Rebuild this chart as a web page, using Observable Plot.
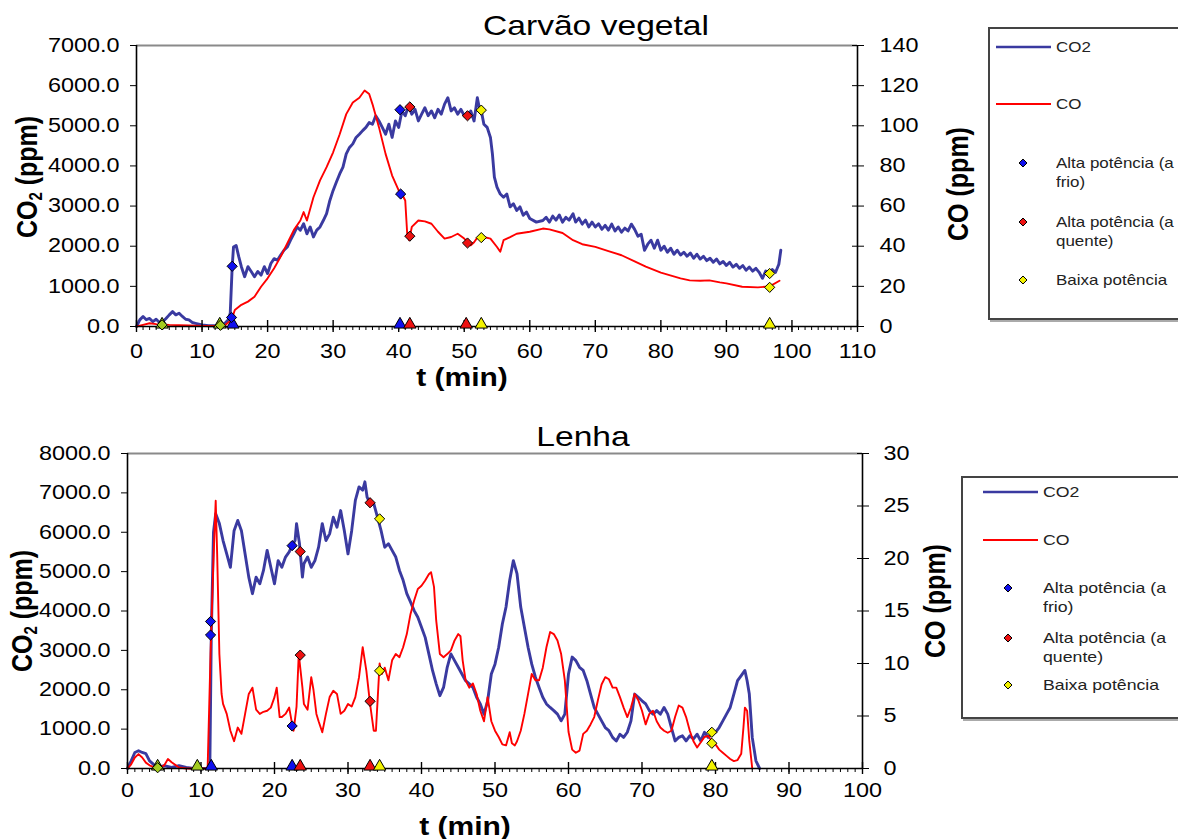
<!DOCTYPE html>
<html><head><meta charset="utf-8">
<script src="https://cdn.jsdelivr.net/npm/d3@7"></script>
<script src="https://cdn.jsdelivr.net/npm/@observablehq/plot@0.6"></script>
<style>
html,body{margin:0;padding:0;background:#fff;}
#root{position:relative;width:1178px;height:839px;overflow:hidden;background:#fff;font-family:"Liberation Sans",Arial,sans-serif;color:#000;}
.abs{position:absolute;white-space:nowrap;line-height:1;}
.title{font-size:28px;transform:translateX(-50%) scaleX(1.2);}
.ylab{font-size:25px;font-weight:bold;transform:translate(-50%,-50%) rotate(-90deg) scaleY(1.2);}
.xlab{font-size:25px;font-weight:bold;transform:translate(-50%,-50%) scaleX(1.2);}
.legend{position:absolute;border:2px solid #444;box-shadow:2px 2px 0 #aaa;background:#fff;}
.lg{position:absolute;font-size:15px;line-height:19px;color:#222;white-space:nowrap;transform-origin:0 50%;}
sub{font-size:0.6em;vertical-align:-0.25em;}
</style>
</head><body>
<div id="root"></div>
<script>
// ---------- Carvão vegetal ----------
const carvaoCO2_t = [0,0.5,1,1.5,2,2.5,3,3.5,4,4.5,5,5.5,6,6.5,7,7.5,8,8.5,9,9.5,10,11,12,13,13.5,14,14.3,14.6,14.8,15.2,15.6,16,16.5,17,17.5,18,18.5,19,19.5,20,20.5,21,21.5,22,22.5,23,23.5,24,24.5,25,25.5,26,26.5,27,27.5,28,28.5,29,29.5,30,30.5,31,31.5,32,32.5,33,33.5,34,34.5,35,35.5,36,36.5,37,37.5,38,38.5,39,39.5,40,40.5,41,41.5,42,42.5,43,43.5,44,44.5,45,45.5,46,46.5,47,47.5,48,48.5,49,49.5,50,50.5,51,51.5,52,52.3,52.7,53,53.5,54,54.3,54.6,55,55.5,56,56.5,57,57.5,58,58.5,59,59.5,60,61,62,62.5,63,63.5,64,64.5,65,65.5,66,66.6,67,67.5,68,68.5,69,69.5,70,70.5,71,71.5,72,72.5,73,73.5,74,74.5,75,75.5,76,76.5,77,77.5,78,78.5,79,79.5,80,80.5,81,81.5,82,82.5,83,83.5,84,84.5,85,85.5,86,86.5,87,87.5,88,88.5,89,89.5,90,90.5,91,91.5,92,92.5,93,93.5,94,94.5,95,95.5,96,96.5,97,97.5,98,98.3];
const carvaoCO2 = [0,165,250,170,200,120,180,100,120,200,290,370,290,330,250,180,165,100,80,60,40,20,20,40,80,165,330,1490,1980,2020,1740,1490,1240,1490,1370,1240,1370,1280,1490,1320,1570,1690,1650,1780,1900,1980,2150,2310,2480,2400,2560,2310,2480,2230,2400,2480,2640,2810,3140,3390,3600,3800,3970,4300,4460,4550,4710,4790,4880,4960,5080,5040,5250,5120,4960,4790,5040,4710,5120,4960,5370,5250,5500,5290,5410,5120,5290,5450,5250,5370,5200,5410,5290,5540,5700,5370,5450,5290,5410,5250,5200,5370,5120,5700,5450,5290,5040,4960,4710,4300,3720,3470,3300,3220,3300,2980,3060,2890,2980,2770,2850,2690,2600,2640,2720,2600,2750,2650,2780,2600,2720,2650,2810,2600,2700,2550,2650,2480,2600,2480,2560,2420,2520,2400,2550,2380,2480,2350,2450,2380,2550,2420,2250,2300,1900,2050,2150,1950,2150,1900,2000,1850,1950,1800,1900,1780,1850,1750,1830,1700,1800,1680,1750,1640,1700,1600,1680,1560,1620,1520,1600,1480,1550,1450,1520,1400,1480,1380,1450,1350,1200,1380,1300,1420,1350,1550,1900];
const carvaoCO_t = [0,1,2,3,5,8,10,12,13.5,14.5,15,16,17,18,19,20,21,22,23,24,25,25.5,26,27,28,29,30,31,32,33,34,34.8,35.5,36,37,38,39,40,40.5,41,41.3,41.6,42,43,44,45,46,47,48,49,50,51,51.5,52,53,54,55,55.5,56,57,58,60,62,63,65,66.6,68,70,72,74,76,77.7,80,81.3,83,84.4,86,87.4,89,90,92.4,94.8,96.6,98.1];
const carvaoCO = [0,0.8,1.6,1.2,0.8,0.5,0.3,0.3,0.6,3.3,8.2,10.8,12.4,14.8,19.8,24,29,34.8,41.4,48,52.8,57,52.8,64.4,72.8,79.4,86.8,95.8,105.8,111.6,114,117.6,115.8,110.8,99.2,86,75.2,67.8,66,62.8,46.2,43,49.6,52.8,52.4,51.2,47.2,43.8,44.6,46.2,43.8,40.4,42,44.3,44.6,43.8,39.6,37.2,43,44.5,46.2,47.2,48.8,48.4,46.6,43,41,39.7,37.6,35.5,32.5,29.8,26.8,25.6,24,23,22.8,23,22,21.5,19.8,19.5,20,22.8];
// marker points on the curves: time, curve, value (CO2 ppm or CO ppm), regime
const carvaoMk_t = [3.9,12.8,14.6,14.5,40.2,40.3,41.7,41.7,50.5,50.5,52.6,52.6,96.6,96.6];
const carvaoMk_s = ["CO2","CO2","CO2","CO","CO2","CO","CO2","CO","CO2","CO","CO2","CO","CO2","CO"];
const carvaoMk_v = [40,30,1500,4.5,5400,66,5470,45,5250,41.6,5390,44.3,1320,19.5];
const carvaoMk_k = ["ini","ini","frio","frio","frio","frio","quente","quente","quente","quente","baixa","baixa","baixa","baixa"];
// triangles on the time axis
const carvaoTri_t = [3.9,12.7,14.7,40.2,41.7,50.3,52.6,96.6];
const carvaoTri_k = ["ini","ini","frio","frio","quente","quente","baixa","baixa"];

// ---------- Lenha ----------
const lenhaCO2_t = [0,0.5,1,1.5,2,2.5,3,3.5,4,5,6,7,8,9,10,11,11.2,11.4,11.7,12,12.5,13,13.5,14,14.5,15,15.5,16,16.5,17,17.5,18,18.5,19,19.5,20,20.5,21,21.5,22,22.4,22.8,23,23.4,23.8,24,24.5,25,25.5,26,26.5,27,27.5,28,28.5,29,29.5,30,30.5,31,31.5,32,32.3,32.6,33,33.5,34,34.5,35,35.5,36,36.5,37,37.5,38,38.5,39,39.5,40,40.5,41,41.5,42,42.5,43,43.5,44,44.5,45,45.5,46,46.5,47,47.5,48,48.5,49,49.5,50,50.5,51,51.5,52,52.5,53,53.5,54,54.5,55,55.5,56,56.5,57,57.5,58,58.5,59,59.5,60,60.5,61,61.5,62,62.5,63,63.5,64,64.5,65,65.5,66,66.5,67,67.5,68,68.5,69,69.5,70,70.5,71,71.5,72,72.5,73,73.5,74,74.5,75,75.5,76,76.5,77,77.5,78,78.5,79,79.5,80,80.5,81,81.5,82,82.5,83,83.5,84,84.3,84.6,85,85.5,86];
const lenhaCO2 = [0,195,407,450,407,380,195,110,30,70,30,70,30,0,0,0,0,3400,6000,6470,6220,5790,5450,5110,6040,6300,6040,5450,4860,4440,4860,4690,5030,5540,5110,4690,5280,5110,5370,5500,5670,5790,6220,5710,4860,5200,5370,5110,5280,5620,6220,5790,5960,6380,6130,6550,6040,5450,6040,6810,7150,7070,7280,6890,6730,6730,6390,6040,5620,5710,5540,5370,5030,4780,4440,4230,4010,3840,3590,3330,2910,2490,2150,1850,2060,2570,2910,2740,2570,2400,2230,2150,2060,1810,1640,1380,1720,2400,2650,3080,3670,4100,4780,5280,4940,4100,3590,3080,2650,2320,2060,1810,1640,1550,1470,1380,1210,1380,2400,2830,2740,2570,2490,2230,1890,1550,1380,1210,1040,960,790,700,870,790,920,1210,1890,1810,1720,1640,1470,1380,1470,1380,1550,1380,1040,700,790,830,700,830,750,870,700,920,790,870,920,1040,1210,1380,1550,1890,2230,2360,2490,2230,1890,790,195,0];
const lenhaCO_t = [0,0.5,1,1.5,2,2.5,3,4,5,5.5,6,7,8,10,10.9,11.3,11.7,12,12.2,12.5,12.8,13,13.5,14,14.5,15,15.5,16,16.5,17,17.5,18,18.5,19,19.5,20,20.3,20.7,21,21.5,22,22.3,22.6,23,23.3,23.8,24,24.5,25,25.3,25.7,26,26.5,27,27.5,28,28.5,29,29.5,30,30.5,31,31.5,32,32.5,33,33.5,33.8,34,34.3,34.6,35,35.5,36,36.5,37,37.5,38,38.5,39,39.5,40,40.5,41,41.3,41.7,42,42.5,43,43.5,44,44.5,45,45.3,45.6,46,46.5,47,47.5,48,48.5,49,49.5,50,50.5,51,51.5,52,52.3,52.7,53,53.5,54,54.5,55,55.5,56,56.5,57,57.5,58,58.5,59,59.5,60,60.5,61,61.5,62,62.5,63,63.5,64,64.5,65,65.5,66,66.5,67,67.5,68,68.5,69,69.5,70,70.5,71,71.5,72,72.5,73,73.5,74,74.5,75,75.5,76,76.5,77,77.5,78,78.5,79,79.5,80,80.5,81,81.5,82,82.5,83,83.5,83.8,84,84.3,84.6,85];
const lenhaCO = [0,0.4,1.05,1.37,1.05,0.56,0.3,0,0.3,0.9,0.6,0.1,0,0,0,10.9,20,25.5,20.4,10.9,7.1,6.15,5.2,3.6,2.6,3.9,3.3,5.2,7.1,7.7,5.6,5.2,5.4,5.5,5.8,6.8,7.7,4.9,4.9,5.2,5.8,4.6,3.6,5.9,10.9,7.7,6.15,5.6,8.7,7.5,5.2,4.5,3.45,5.2,6.8,7.4,7.1,5.2,5.5,6.15,5.9,6.8,8.7,11.55,9.3,6.15,3.6,3.6,6.15,10,9,9.6,8.4,10.3,10.9,10.6,11.55,12.8,14.7,16,17.1,17.4,17.9,18.5,18.7,17.3,14.1,10.9,10.6,10.9,11.25,12.2,12.8,12.6,10.3,8.4,7.7,8.1,7.1,5.5,4.5,6.8,4.5,3.6,3,2.3,2.2,3.45,2.4,2.2,2.6,3.6,5.2,7.1,9,8.4,8.4,9.6,11.55,13,12.8,12.2,10.9,8.4,3.5,1.8,1.5,1.7,3.3,3.6,4.2,4.9,6.5,8,8.7,8.5,7.7,7.7,6.8,5.8,4.9,5.8,7.1,6.5,5.5,4.2,5.2,5.5,4.5,3.9,3.6,3.4,3.6,4.9,6,5.8,4.9,3.6,2.6,2,2.5,3,3.1,2.6,2.3,1.8,1.5,1.2,0.9,0.7,0.8,1.4,3.9,5.8,5.5,2.6,0];
const lenhaMk_t = [4.1,11.3,11.3,22.4,22.4,23.5,23.5,33.0,33.0,34.3,34.3,79.5,79.5];
const lenhaMk_s = ["CO2","CO2","CO","CO2","CO","CO2","CO","CO2","CO","CO2","CO","CO2","CO"];
const lenhaMk_v = [20,3390,14.0,5660,4.05,5510,10.8,6750,6.4,6340,9.3,920,2.4];
const lenhaMk_k = ["ini","frio","frio","frio","frio","quente","quente","quente","quente","baixa","baixa","baixa","baixa"];
const lenhaTri_t = [4.1,9.5,11.4,22.4,23.5,33.0,34.3,79.5];
const lenhaTri_k = ["ini","ini","frio","frio","quente","quente","baixa","baixa"];

// ---------- axes ----------
const carvaoXTicks = [0,10,20,30,40,50,60,70,80,90,100,110];
const carvaoYTicks = [0,1000,2000,3000,4000,5000,6000,7000];
const carvaoCOTicks = [0,20,40,60,80,100,120,140];
const lenhaXTicks = [0,10,20,30,40,50,60,70,80,90,100];
const lenhaYTicks = [0,1000,2000,3000,4000,5000,6000,7000,8000];
const lenhaCOTicks = [0,5,10,15,20,25,30];

const regimeColor = {frio:"#1010ee", quente:"#ee1111", baixa:"#f2f200", ini:"#a4cc20"};
const legendItems = ["Alta potência (a<br>frio)","Alta potência (a<br>quente)","Baixa potência"];
const legendKeys = ["frio","quente","baixa"];

const FONT = '"Liberation Sans", Arial, sans-serif';
const STRETCH = 1.2;

function panel(o) {
  const k = o.yMax / o.coMax;
  const co2Data = o.co2T.map((t, i) => ({t, v: o.co2[i]}));
  const coData = o.coT.map((t, i) => ({t, v: o.co[i] * k}));
  const mk = o.mkT.map((t, i) => ({t, s: o.mkS[i], v: o.mkV[i], c: regimeColor[o.mkK[i]]}));
  const tri = o.triT.map((t, i) => ({t, c: regimeColor[o.triK[i]]}));
  const minor = d3.range(0, o.xMax + 0.5, 1);
  return Plot.plot({
    width: o.width, height: o.height,
    marginLeft: o.mL, marginRight: o.mR, marginTop: o.mT, marginBottom: o.mB,
    style: {fontFamily: FONT, fontSize: "19px", color: "#000", background: "transparent", overflow: "visible"},
    x: {domain: [0, o.xMax]},
    y: {domain: [0, o.yMax]},
    color: {type: "identity"},
    marks: [
      Plot.ruleY([o.yMax], {stroke: "#8a8a8a", strokeWidth: 2}),
      Plot.line(co2Data, {x: "t", y: "v", stroke: "#3a3aa0", strokeWidth: 2.9}),
      Plot.line(coData, {x: "t", y: "v", stroke: "#ff0000", strokeWidth: 1.9}),
      Plot.ruleX([0], {stroke: "#000", strokeWidth: 1.6}),
      Plot.ruleX([o.xMax], {stroke: "#000", strokeWidth: 1.6}),
      Plot.ruleY([0], {stroke: "#000", strokeWidth: 1.6}),
      // left axis
      Plot.axisY({ticks: o.yTicks, tickFormat: d => d.toFixed(1), tickSize: 6, tickPadding: o.padL, label: null, fontSize: 19.5}),
      // right axis (CO), crossing ticks
      Plot.axisY({anchor: "right", ticks: o.coTicks.map(c => c * k), tickSize: 12, dx: -6, tickFormat: () => "", label: null}),
      Plot.axisY({anchor: "right", ticks: o.coTicks.map(c => c * k), tickSize: 6, tickPadding: o.padR, tickFormat: d => String(Math.round(d / k)), label: null, fontSize: 19.5, strokeOpacity: 0}),
      // x axis
      Plot.axisX({ticks: minor, tickSize: 4, tickFormat: () => "", label: null, strokeWidth: 1}),
      Plot.axisX({ticks: o.xTicks, tickSize: 12, dy: -6, tickFormat: () => "", label: null, strokeWidth: 1.4}),
      Plot.axisX({ticks: o.xTicks, tickSize: 6, tickPadding: o.padB, tickFormat: d => String(d), label: null, fontSize: 19.5, strokeOpacity: 0}),
      Plot.dot(tri, {x: "t", y: () => 0, symbol: "triangle", r: 4.6, dy: -2, fill: "c", stroke: "#000", strokeWidth: 1}),
      Plot.dot(mk, {x: "t", y: d => d.s === "CO" ? d.v * k : d.v, symbol: "diamond2", r: 4.6, fill: "c", stroke: "#000", strokeWidth: 1})
    ]
  });
}

// widen glyphs horizontally like the reference figure
function stretchText(svg) {
  svg.querySelectorAll("text").forEach(t => {
    const L = t.getComputedTextLength();
    if (L > 0) {
      t.setAttribute("textLength", (L * STRETCH).toFixed(2));
      t.setAttribute("lengthAdjust", "spacingAndGlyphs");
    }
  });
}

function legendHTML(box) {
  const st = `transform:scaleX(${box.sx})`;
  let h = `<div class="legend" style="left:${box.x}px;top:${box.y}px;width:${box.w}px;height:${box.h}px"></div>`;
  h += `<svg class="abs" style="left:${box.lx1}px;top:${box.yCO2-3}px" width="${box.lx2-box.lx1}" height="6"><line x1="0" x2="${box.lx2-box.lx1}" y1="3" y2="3" stroke="#3a3aa0" stroke-width="2.4"/></svg>`;
  h += `<div class="lg" style="left:${box.tx}px;top:${box.yCO2-10}px;${st}">CO2</div>`;
  h += `<svg class="abs" style="left:${box.lx1}px;top:${box.yCO-3}px" width="${box.lx2-box.lx1}" height="6"><line x1="0" x2="${box.lx2-box.lx1}" y1="3" y2="3" stroke="#ff0000" stroke-width="1.9"/></svg>`;
  h += `<div class="lg" style="left:${box.tx}px;top:${box.yCO-10}px;${st}">CO</div>`;
  legendKeys.forEach((key, i) => {
    const y = box.yItems[i];
    h += `<svg class="abs" style="left:${box.dx-6}px;top:${y-6}px" width="12" height="12"><path d="M6,2L10,6L6,10L2,6Z" fill="${regimeColor[key]}" stroke="#000" stroke-width="1"/></svg>`;
    h += `<div class="lg" style="left:${box.tx}px;top:${y-10}px;${st}">${legendItems[i]}</div>`;
  });
  return h;
}

const root = document.getElementById("root");
root.innerHTML = `
<div class="abs title" style="left:596px;top:12px">Carvão vegetal</div>
<div class="abs ylab" style="left:28px;top:177px">CO<sub>2</sub> (ppm)</div>
<div class="abs ylab" style="left:958px;top:184px">CO (ppm)</div>
<div class="abs xlab" style="left:462px;top:377px">t (min)</div>
<div class="abs title" style="left:583px;top:423px">Lenha</div>
<div class="abs ylab" style="left:23px;top:611px">CO<sub>2</sub> (ppm)</div>
<div class="abs ylab" style="left:935px;top:601px">CO (ppm)</div>
<div class="abs xlab" style="left:465px;top:826px">t (min)</div>
` + legendHTML({x: 988, y: 27, w: 240, h: 289, lx1: 996, lx2: 1051, yCO2: 47, yCO: 104, dx: 1023, tx: 1056, yItems: [163, 222, 280], sx: 1.13})
  + legendHTML({x: 961, y: 476, w: 240, h: 239, lx1: 983, lx2: 1038, yCO2: 492, yCO: 540, dx: 1008, tx: 1043, yItems: [588, 638, 685], sx: 1.18});

const p1 = panel({co2T: carvaoCO2_t, co2: carvaoCO2, coT: carvaoCO_t, co: carvaoCO,
  mkT: carvaoMk_t, mkS: carvaoMk_s, mkV: carvaoMk_v, mkK: carvaoMk_k, triT: carvaoTri_t, triK: carvaoTri_k,
  xMax: 110, xTicks: carvaoXTicks, yMax: 7000, yTicks: carvaoYTicks, coMax: 140, coTicks: carvaoCOTicks,
  padL: 11, padR: 16, padB: 12,
  width: 940, height: 400, mL: 136, mR: 83, mT: 45, mB: 74});
p1.style.position = "absolute"; p1.style.left = "0px"; p1.style.top = "0px";
root.appendChild(p1);
stretchText(p1);

const p2 = panel({co2T: lenhaCO2_t, co2: lenhaCO2, coT: lenhaCO_t, co: lenhaCO,
  mkT: lenhaMk_t, mkS: lenhaMk_s, mkV: lenhaMk_v, mkK: lenhaMk_k, triT: lenhaTri_t, triK: lenhaTri_k,
  xMax: 100, xTicks: lenhaXTicks, yMax: 8000, yTicks: lenhaYTicks, coMax: 30, coTicks: lenhaCOTicks,
  padL: 11, padR: 15, padB: 9,
  width: 920, height: 429, mL: 127, mR: 58, mT: 43, mB: 71});
p2.style.position = "absolute"; p2.style.left = "0px"; p2.style.top = "410px";
root.appendChild(p2);
stretchText(p2);
</script>
</body></html>
